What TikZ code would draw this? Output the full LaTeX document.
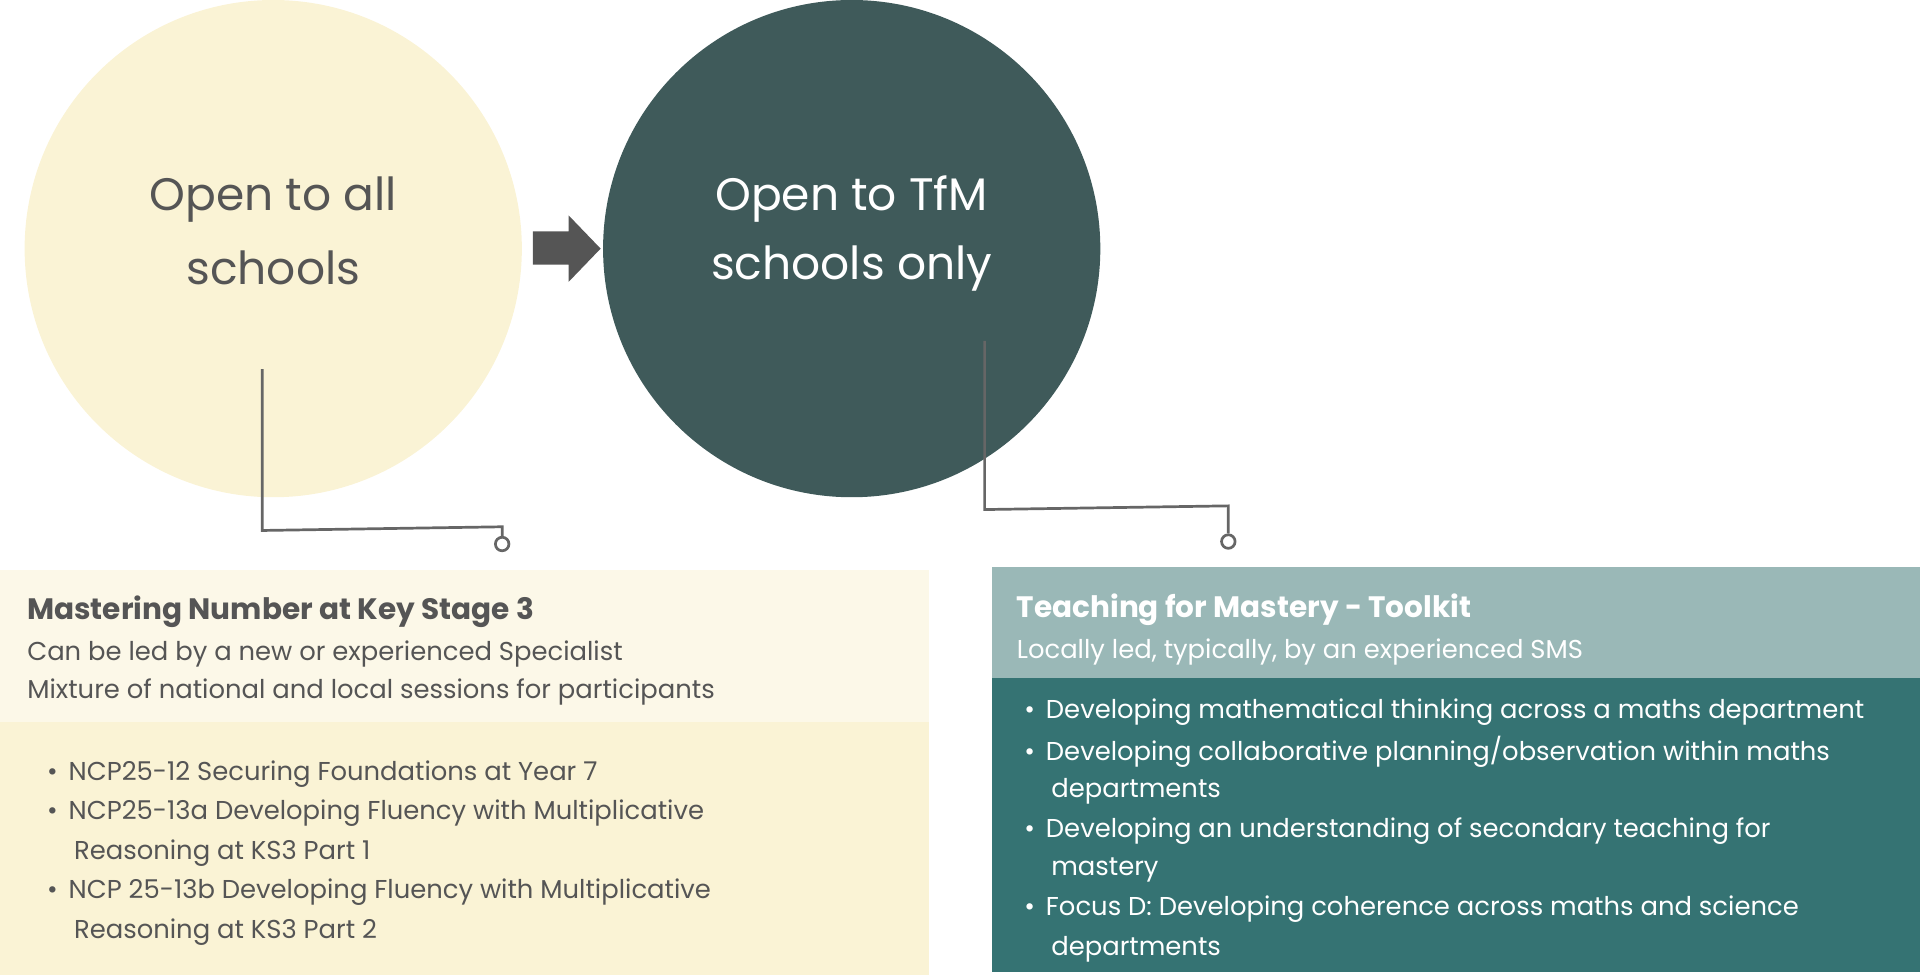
\documentclass[tikz,border=0pt]{standalone}
\usepackage{fontspec}
\setmainfont{Poppins}
\begin{document}
\begin{tikzpicture}[x=1pt,y=-1pt,
  txt/.style={anchor=west,inner sep=0pt,font=\fontsize{21}{24}\selectfont},
  big/.style={inner sep=0pt,font=\fontsize{37}{44}\selectfont},
  ttl/.style={anchor=west,inner sep=0pt,font=\fontsize{24}{28}\bfseries\selectfont},
  conn/.style={draw=gray!80!black,line width=2.2pt}]
\definecolor{cream}{HTML}{FAF3D5}
\definecolor{creamlt}{HTML}{FCF8E8}
\definecolor{dteal}{HTML}{3F5A5A}
\definecolor{lteal}{HTML}{9AB8B7}
\definecolor{mteal}{HTML}{357373}
\definecolor{gtxt}{HTML}{555555}
\useasboundingbox (0,0) rectangle (1560,793);
\fill[cream] (222,202) circle (202);
\fill[dteal] (692,202) circle (202);
\fill[gtxt] (433,188) -- (462,188) -- (462,175) -- (488,202) -- (462,229) -- (462,215) -- (433,215) -- cycle;
\node[big,text=gtxt] (a1) at (222,162) {Open to all};
\node[big,text=gtxt] (a2) at (222,218) {schools};
\node[big,text=white] (b1) at (692,162) {Open to TfM};
\node[big,text=white] (b2) at (692,218) {schools only};
% boxes
\fill[creamlt] (0,463) rectangle (755,587);
\fill[cream] (0,587) rectangle (755,792);
\fill[lteal] (806,461) rectangle (1560,551);
\fill[mteal] (806,551) rectangle (1560,790);
% connectors
\coordinate (l0) at (213,300);
\node[circle,draw=gray!80!black,line width=2.2pt,minimum size=11pt,inner sep=0pt] (lc) at (408,442) {};
\draw[conn] (l0) -- (213,431) -- (408,428) -- (lc.north);
\coordinate (r0) at (800,277);
\node[circle,draw=gray!80!black,line width=2.2pt,minimum size=11pt,inner sep=0pt] (rc) at (998,440) {};
\draw[conn] (r0) -- (800,414) -- (998,411) -- (rc.north);
% left texts
\begin{scope}[text=gtxt]
\node[ttl] (lt) at (22,497) {Mastering Number at Key Stage 3};
\node[txt] (l1) at (22,531) {Can be led by a new or experienced Specialist};
\node[txt] (l2) at (22,562) {Mixture of national and local sessions for participants};
\node[txt] (l3) at (38,629) {•\hspace{9pt}NCP25-12 Securing Foundations at Year 7};
\node[txt] (l4) at (38,661) {•\hspace{9pt}NCP25-13a Developing Fluency with Multiplicative};
\node[txt] (l5) at (60,693) {Reasoning at KS3 Part 1};
\node[txt] (l6) at (38,725) {•\hspace{9pt}NCP 25-13b Developing Fluency with Multiplicative};
\node[txt] (l7) at (60,757) {Reasoning at KS3 Part 2};
\end{scope}
\begin{scope}[text=white]
\node[ttl] (rt) at (826,495) {Teaching for Mastery - Toolkit};
\node[txt] (r1) at (826,530) {Locally led, typically, by an experienced SMS};
\node[txt] (r2) at (832,579) {•\hspace{9pt}Developing mathematical thinking across a maths department};
\node[txt] (r3) at (832,611) {•\hspace{9pt}Developing collaborative planning/observation within maths};
\node[txt] (r4) at (854,643) {departments};
\node[txt] (r5) at (832,675) {•\hspace{9pt}Developing an understanding of secondary teaching for};
\node[txt] (r6) at (854,707) {mastery};
\node[txt] (r7) at (832,739) {•\hspace{9pt}Focus D: Developing coherence across maths and science};
\node[txt] (r8) at (854,771) {departments};
\end{scope}
\end{tikzpicture}
\end{document}
